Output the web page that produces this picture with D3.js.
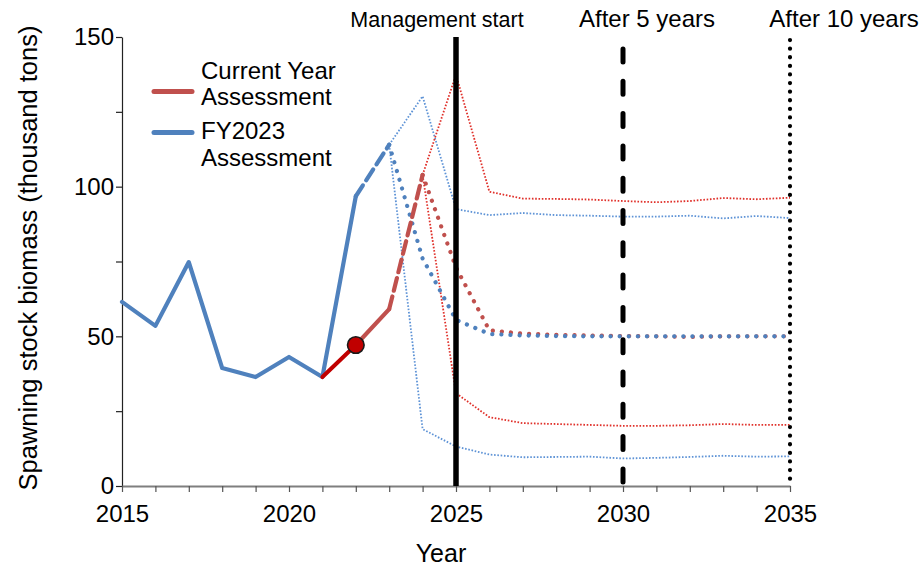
<!DOCTYPE html>
<html>
<head>
<meta charset="utf-8">
<script src="https://cdn.jsdelivr.net/npm/d3@7"></script>
<style>
  html, body { margin: 0; padding: 0; background: #fff; }
  svg { display: block; font-family: "Liberation Sans", Arial, sans-serif; }
</style>
</head>
<body>
<svg id="chart" width="922" height="567"></svg>
<script>
// ---- Data ----
const obsYears = [2015, 2016, 2017, 2018, 2019, 2020, 2021, 2022];
const fy2023Obs = [61.5, 53.5, 74.8, 39.4, 36.4, 43.1, 36.4, 96.8];
const fy2023BridgeYears = [2022, 2023];
const fy2023Bridge = [96.8, 114];
const fy2023ProjYears = [2023, 2024, 2025, 2026, 2027, 2028, 2029, 2030, 2031, 2032, 2033, 2034, 2035];
const fy2023Median = [114, 76, 55.5, 50.8, 50.3, 50.1, 50, 50, 50, 50, 50, 50, 50];
const fy2023Upper = [114, 130.2, 92.5, 90.5, 91.2, 90.5, 90.3, 90, 90, 90.3, 89.4, 90.2, 89.5];
const fy2023Lower = [114, 19, 13.2, 10.5, 9.6, 9.7, 9.8, 9.2, 9.4, 9.7, 10.1, 9.8, 9.9];

const curYears1 = [2021, 2022];
const cur1 = [36.4, 47.1];
const curYears2 = [2022, 2023];
const cur2 = [47.1, 59.1];
const curBridgeYears = [2023, 2024];
const curBridge = [59.1, 103.9];
const curProjYears = [2024, 2025, 2026, 2027, 2028, 2029, 2030, 2031, 2032, 2033, 2034, 2035];
const curMedian = [103.9, 73, 52, 50.9, 50.5, 50.3, 50.1, 50, 49.8, 50, 50, 50];
const curUpper = [103.9, 137.4, 98.3, 96, 95.9, 95.7, 95.2, 94.8, 95.2, 96.2, 95.8, 96.3];
const curLower = [103.9, 31, 23, 21, 20.7, 20.4, 20.1, 20.1, 20.3, 20.7, 20.4, 20.4];

const markerYear = [2022];
const markerValue = [47.1];

const milestoneYears = [2025, 2030, 2035];
const milestoneLabels = ["Management start", "After 5 years", "After 10 years"];
const yTicks = [0, 25, 50, 75, 100, 125, 150];
const yTickLabels = ["0", "", "50", "", "100", "", "150"];
const xTicks = [2015, 2016, 2017, 2018, 2019, 2020, 2021, 2022, 2023, 2024, 2025, 2026, 2027, 2028, 2029, 2030, 2031, 2032, 2033, 2034, 2035];
const xTickLabels = ["2015", "2020", "2025", "2030", "2035"];
const legendLabels = [["Current Year", "Assessment"], ["FY2023", "Assessment"]];

// ---- Layout ----
const svg = d3.select("#chart");
const x = d3.scaleLinear().domain([2015, 2035]).range([122, 790]);
const y = d3.scaleLinear().domain([0, 150]).range([486, 37]);
const zip = (xs, ys) => xs.map((v, i) => [v, ys[i]]);
const line = d3.line().x(d => x(d[0])).y(d => y(d[1]));

const BLUE = "#4F81BD", RED = "#C0504D", DARKRED = "#C00000";
const THINBLUE = "#5E93D6", THINRED = "#E0302A";

// Axes
const yAxis = svg.append("g").attr("transform", `translate(${x(2015)},0)`)
  .call(d3.axisLeft(y).tickValues(yTicks).tickSize(6).tickSizeOuter(0).tickPadding(2)
    .tickFormat((d, i) => yTickLabels[i]));
yAxis.select(".domain").attr("stroke", "#222").attr("stroke-width", 1.2);
yAxis.selectAll(".tick line").attr("stroke", "#222").attr("stroke-width", 1.2);
yAxis.selectAll("text").attr("font-size", 24).attr("fill", "#000").attr("font-family", "Liberation Sans, Arial");

const xAxis = svg.append("g").attr("transform", `translate(0,${y(0)})`)
  .call(d3.axisBottom(x).tickValues(xTicks).tickSize(6).tickSizeOuter(0).tickPadding(13)
    .tickFormat(d => xTickLabels.includes(String(d)) ? String(d) : ""));
xAxis.select(".domain").attr("stroke", "#7f7f7f").attr("stroke-width", 2);
xAxis.selectAll(".tick line").attr("stroke", "#555").attr("stroke-width", 1.2);
xAxis.selectAll("text").attr("font-size", 24).attr("fill", "#000").attr("font-family", "Liberation Sans, Arial");

// Axis titles
svg.append("text").attr("x", 441).attr("y", 562).attr("text-anchor", "middle")
  .attr("font-size", 25).text("Year");
svg.append("text").attr("transform", `translate(37,${(y(0) + 30) / 2}) rotate(-90)`)
  .attr("text-anchor", "middle").attr("font-size", 25.5)
  .text("Spawning stock biomass (thousand tons)");

// Data lines
function draw(data, color, width, dash, cap) {
  svg.append("path").datum(data).attr("d", line).attr("fill", "none")
    .attr("stroke", color).attr("stroke-width", width)
    .attr("stroke-dasharray", dash || null)
    .attr("stroke-linecap", cap || "butt").attr("stroke-linejoin", "round");
}

// thin uncertainty lines
draw(zip(fy2023ProjYears, fy2023Upper), THINBLUE, 1.8, "1.6,1.7", "butt");
draw(zip(fy2023ProjYears, fy2023Lower), THINBLUE, 1.8, "1.6,1.7", "butt");
draw(zip(curProjYears, curUpper), THINRED, 1.8, "1.6,1.7", "butt");
draw(zip(curProjYears, curLower), THINRED, 1.8, "1.6,1.7", "butt");

// median projections
draw(zip(curProjYears, curMedian), RED, 4.2, "0.1,9", "round");
draw(zip(fy2023ProjYears, fy2023Median), BLUE, 4.2, "0.1,9", "round");

// assessments
draw(zip(obsYears, fy2023Obs), BLUE, 4.2, null, "round");
draw(zip(fy2023BridgeYears, fy2023Bridge), BLUE, 4.2, "13,6", "round");
draw(zip(curYears2, cur2), RED, 4.2, null, "round");
draw(zip(curBridgeYears, curBridge), RED, 4.2, "13,6", "round");
draw(zip(curYears1, cur1), DARKRED, 4, null, "round");

svg.append("g").selectAll("circle").data(zip(markerYear, markerValue)).join("circle")
  .attr("cx", d => x(d[0])).attr("cy", d => y(d[1])).attr("r", 8.3)
  .attr("fill", DARKRED).attr("stroke", "#1a1a1a").attr("stroke-width", 1.6);

// Milestone vertical lines
const vStyles = [
  { w: 5.5, dash: null, cap: "butt", top: 37 },
  { w: 5, dash: "13,19.3", cap: "round", top: 49 },
  { w: 4.2, dash: "0.1,8.5", cap: "round", top: 40 }
];
milestoneYears.forEach((yr, i) => {
  const s = vStyles[i];
  svg.append("line").attr("x1", x(yr)).attr("x2", x(yr))
    .attr("y1", s.top).attr("y2", y(0))
    .attr("stroke", "#000").attr("stroke-width", s.w)
    .attr("stroke-dasharray", s.dash).attr("stroke-linecap", s.cap);
});

// Milestone labels
const labelCenters = [437, 647, 844];
const labelSizes = [21.5, 24, 24];
milestoneLabels.forEach((t, i) => {
  svg.append("text").attr("x", labelCenters[i]).attr("y", 27)
    .attr("text-anchor", "middle").attr("font-size", labelSizes[i]).text(t);
});

// Legend
const legendColors = [RED, BLUE];
const legendLineY = [91.5, 132.5];
const legendBaselines = [[79, 105], [139, 166]];
legendLabels.forEach((lines, i) => {
  svg.append("line").attr("x1", 154).attr("x2", 192)
    .attr("y1", legendLineY[i]).attr("y2", legendLineY[i])
    .attr("stroke", legendColors[i]).attr("stroke-width", 5).attr("stroke-linecap", "round");
  lines.forEach((t, j) => {
    svg.append("text").attr("x", 201).attr("y", legendBaselines[i][j])
      .attr("font-size", 24).text(t);
  });
});
</script>
</body>
</html>
